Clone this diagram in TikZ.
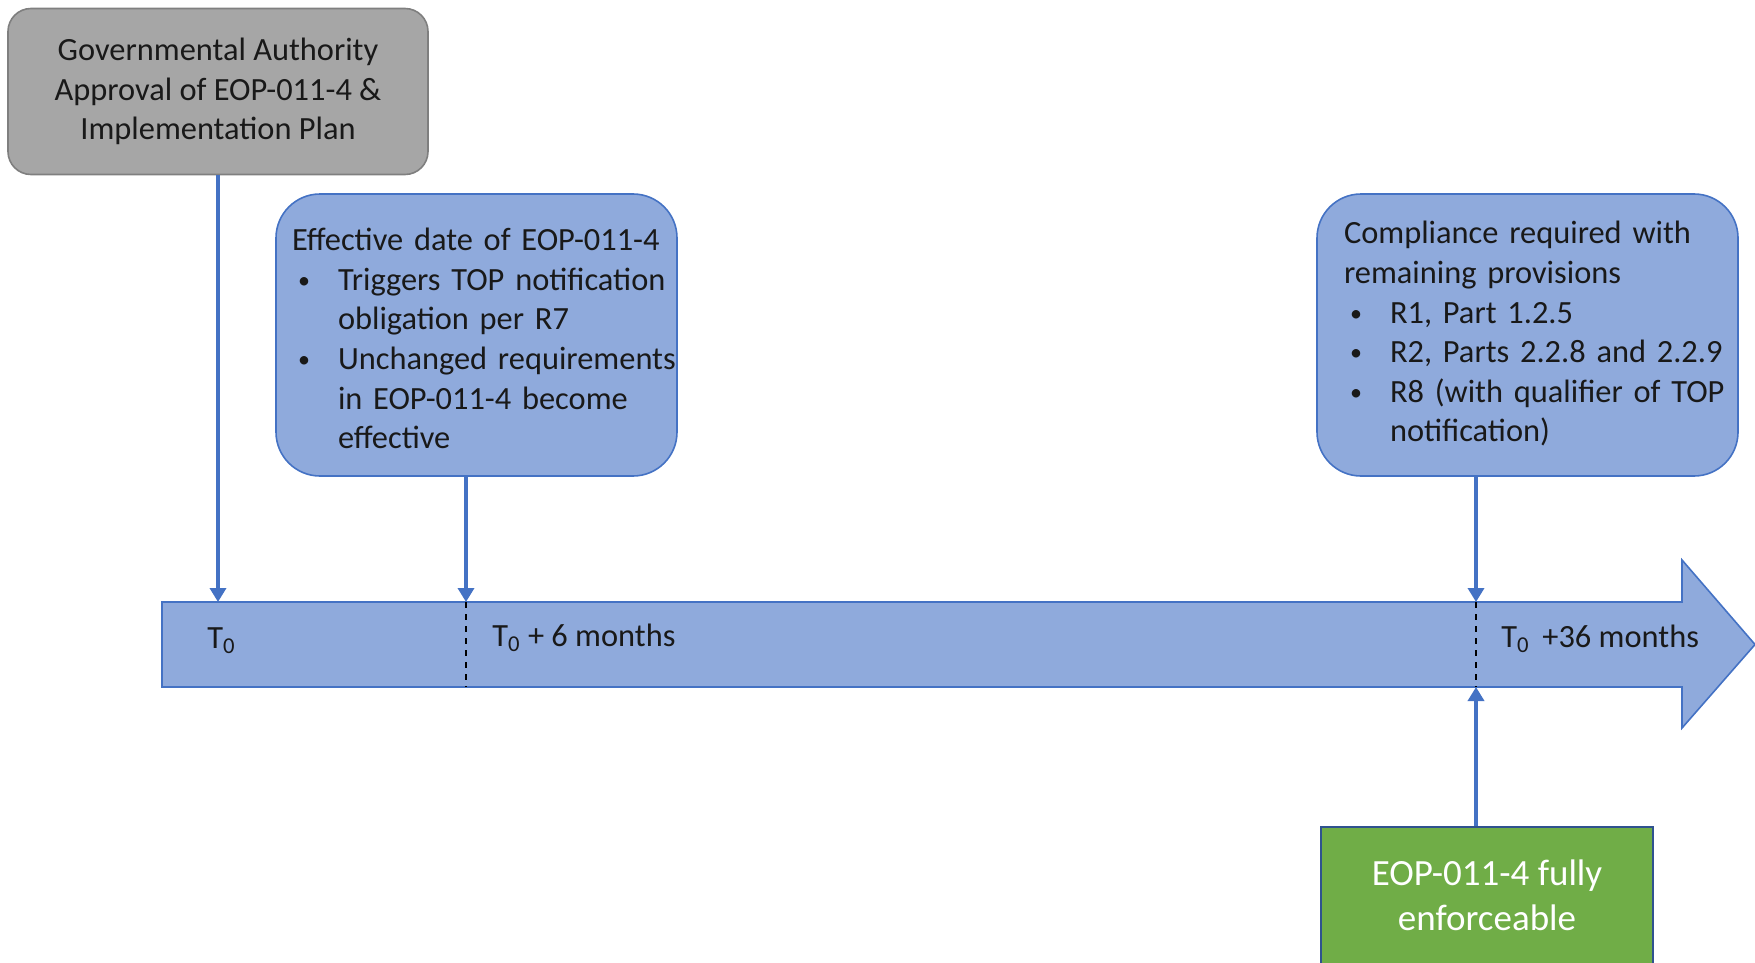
\documentclass[tikz,border=0pt]{standalone}
\usepackage{fontspec}
\setmainfont{Carlito}
\usetikzlibrary{arrows.meta,calc,positioning}

\definecolor{barblue}{HTML}{8FAADC}
\definecolor{edgeblue}{HTML}{4472C4}
\definecolor{boxgray}{HTML}{A6A6A6}
\definecolor{edgegray}{HTML}{7F7F7F}
\definecolor{leafgreen}{HTML}{70AD47}
\definecolor{greenedge}{HTML}{2F528F}

\newcommand{\bul}{\makebox[23pt][l]{\hspace{3pt}\raisebox{1pt}{\fontsize{12}{12}\selectfont\textbullet}}}
\newcommand{\ind}{\hspace*{23pt}}

\tikzset{
  every node/.style={text=black!90, font=\fontsize{16.2}{19.8}\selectfont},
  notebox/.style={draw=edgeblue, fill=barblue, line width=0.8pt, rounded corners=22pt,
    minimum height=141pt, align=left, inner ysep=0pt},
  conn/.style={draw=edgeblue, line width=1.8pt, -{Triangle[length=7pt,width=8pt]}},
  tick/.style={black, dashed, line width=0.6pt},
}

\begin{document}
\begin{tikzpicture}[x=0.5pt, y=-0.5pt]
		\useasboundingbox (0,0) rectangle (1755,963);
		\clip (0,0) rectangle (1755,963);

		% timeline bar
		\draw[draw=edgeblue, fill=barblue, line width=0.8pt]
			(162,602) -- (1682,602) -- (1682,560) -- (1755,644.5) -- (1682,728) -- (1682,687) -- (162,687) -- cycle;
		\coordinate (bartop) at (162,602);
		\coordinate (barbot) at (162,687);
		\coordinate (m6) at (466,602);
		\coordinate (m36) at (1476,602);

		\node[draw=edgegray, fill=boxgray, line width=0.8pt, rounded corners=11.5pt, minimum width=210pt, minimum height=83pt, align=center] (approval) at (218,91.5) {Governmental Authority\\Approval of EOP-011-4 \&\\Implementation Plan};
		\node[notebox, text width=184.5pt, inner xsep=8pt] (effective) at (476.5,335) {\begin{tabular}{@{}l@{}}
			\noalign{\vskip 6.7pt}
			Effective date of EOP-011-4\\
			\bul Triggers TOP notification\\
			\ind obligation per R7\\
			\bul Unchanged requirements\\
			\ind in EOP-011-4 become\\
			\ind effective\end{tabular}};
		\node[notebox, text width=183.5pt, inner xsep=13.5pt] (compliance) at (1527.5,335) {\begin{tabular}{@{}l@{}}
			Compliance required with\\
			remaining provisions\\
			\bul R1, Part 1.2.5\\
			\bul R2, Parts 2.2.8 and 2.2.9\\
			\bul R8 (with qualifier of TOP\\
			\ind notification)\end{tabular}};
		\node[draw=greenedge, fill=leafgreen, line width=0.8pt, minimum width=166pt, minimum height=68.5pt, align=center, text=white, font=\fontsize{18.5}{22.5}\selectfont] (enforce) at (1487,895.5) {EOP-011-4 fully\\enforceable};

		\node[anchor=west, inner sep=0pt] (t0) at (207,641) {T\textsubscript{0}};
		\node[anchor=west, inner sep=0pt] (t6) at (492,638) {T\textsubscript{0} + 6 months};
		\node[anchor=west, inner sep=0pt] (t36) at (1501,639) {T\textsubscript{0} \,+36 months};

		\draw[tick] (m6) -- (m6 |- barbot);
		\draw[tick] (m36) -- (m36 |- barbot);

		\draw[conn] (approval.south) -- (approval.south |- bartop);
		\draw[conn] (m6 |- effective.south) -- (m6);
		\draw[conn] (m36 |- compliance.south) -- (m36);
		\draw[conn] (m36 |- enforce.north) -- (m36 |- barbot);
	\end{tikzpicture}
\end{document}
